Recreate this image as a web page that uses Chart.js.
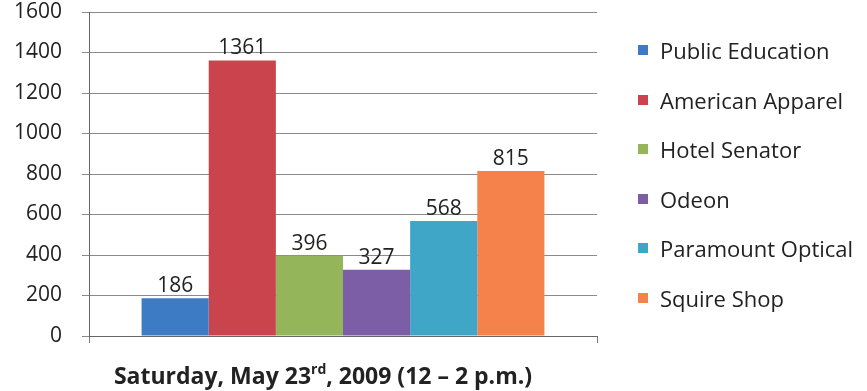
<!DOCTYPE html>
<html>
<head>
<meta charset="utf-8">
<script src="https://cdn.jsdelivr.net/npm/chart.js@4/dist/chart.umd.min.js"></script>
<style>
  html, body { margin: 0; padding: 0; background: #fff; }
  #wrap { position: relative; width: 867px; height: 391px; }
  #legend { position: absolute; left: 638px; top: 0; font-family: "Open Sans", sans-serif; font-size: 22px; color: #222; }
  .item { position: absolute; left: 0; white-space: nowrap; height: 26px; line-height: 26px; }
  .item span.box { position: absolute; left: 0; top: 8px; width: 10px; height: 10px; }
  .item span.txt { position: absolute; left: 22px; top: 0; }
</style>
</head>
<body>
<div id="wrap">
  <canvas id="myChart" width="867" height="391"></canvas>
  <div id="legend"></div>
</div>
<script>
const stores = ['Public Education', 'American Apparel', 'Hotel Senator', 'Odeon', 'Paramount Optical', 'Squire Shop']
const visitors = [186, 1361, 396, 327, 568, 815]
const barColors = ['#3d7cc4', '#c9444d', '#94b559', '#7b5ea6', '#40a6c8', '#f5824a']
const yTicks = [0, 200, 400, 600, 800, 1000, 1200, 1400, 1600]

// one dataset per store so each gets its own bar + legend entry
const datasets = stores.map((name, i) => ({
    label: name,
    data: [visitors[i]],
    backgroundColor: barColors[i],
    borderWidth: 0,
    barPercentage: 1,
    categoryPercentage: 0.793
}))

// numbers above bars
const valueLabels = {
    id: 'valueLabels',
    afterDatasetsDraw(chart) {
        const ctx = chart.ctx
        ctx.save()
        ctx.font = '21px "Open Sans", sans-serif'
        ctx.fillStyle = '#222'
        ctx.textAlign = 'center'
        ctx.textBaseline = 'alphabetic'
        chart.data.datasets.forEach((ds, i) => {
            const bar = chart.getDatasetMeta(i).data[0]
            ctx.fillText(ds.data[0], bar.x, bar.y - 6)
        })
        ctx.restore()
    }
}

// axis title with a superscript "rd"
const dateTitle = {
    id: 'dateTitle',
    afterDraw(chart) {
        const ctx = chart.ctx
        const big = 'bold 23px "Open Sans", sans-serif'
        const small = 'bold 14px "Open Sans", sans-serif'
        const parts = [['Saturday, May 23', big, 0], ['rd', small, -10], [', 2009 (12 \u2013 2 p.m.)', big, 0]]
        ctx.save()
        ctx.fillStyle = '#222'
        ctx.textBaseline = 'alphabetic'
        let total = 0
        parts.forEach(p => { ctx.font = p[1]; total += ctx.measureText(p[0]).width })
        let x = (chart.chartArea.left + chart.chartArea.right) / 2 - 20 - total / 2
        const y = 384
        parts.forEach(p => {
            ctx.font = p[1]
            ctx.fillText(p[0], x, y + p[2])
            x += ctx.measureText(p[0]).width
        })
        ctx.restore()
    }
}

const config = {
    type: 'bar',
    data: { labels: [''], datasets: datasets },
    options: {
        responsive: false,
        animation: false,
        layout: { padding: { top: 12, right: 270, left: 0, bottom: 0 } },
        plugins: { legend: { display: false }, tooltip: { enabled: false } },
        scales: {
            x: {
                afterFit: s => { s.height = 55; s.paddingLeft = 0; s.paddingRight = 0 },
                ticks: { display: false },
                grid: { drawOnChartArea: false, color: '#777', tickLength: 7 },
                border: { color: '#666', width: 1 }
            },
            y: {
                min: 0,
                max: 1600,
                afterFit: s => { s.width = 89; s.paddingTop = 0; s.paddingBottom = 0 },
                afterBuildTicks: s => { s.ticks = yTicks.map(v => ({ value: v })) },
                ticks: {
                    padding: 20,
                    color: '#222',
                    font: { family: '"Open Sans", sans-serif', size: 21 },
                    callback: v => String(v)
                },
                grid: { color: '#8a8a8a', tickLength: 7 },
                border: { color: '#666', width: 1 }
            }
        }
    },
    plugins: [valueLabels, dateTitle]
}

const myChart = new Chart(document.querySelector('#myChart'), config)

// legend on the right
const legendEl = document.querySelector('#legend')
const legendTops = [50, 100, 149, 199, 248, 298]
stores.forEach((name, i) => {
    legendEl.innerHTML += `<div class="item" style="top:${legendTops[i] - 13}px"><span class="box" style="background:${barColors[i]}"></span><span class="txt">${name}</span></div>`
})
</script>
</body>
</html>
